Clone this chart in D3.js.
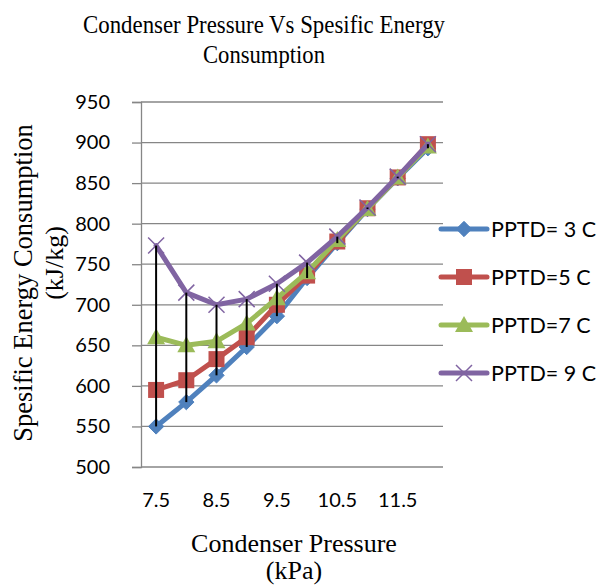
<!DOCTYPE html>
<html><head><meta charset="utf-8">
<script src="https://cdn.jsdelivr.net/npm/d3@7"></script>
<style>body{margin:0;background:#fff;} svg{display:block;}</style>
</head><body>
<svg id="c" width="604" height="587"></svg>
<script>
const categories = ["7.5","8","8.5","9","9.5","10","10.5","11","11.5","12"];
const tickLabels = ["7.5","8.5","9.5","10.5","11.5"];
const yTicks = [500,550,600,650,700,750,800,850,900,950];
const seriesNames = ["PPTD= 3 C","PPTD=5 C","PPTD=7 C","PPTD= 9 C"];
const pptd3 = [550,580,613,648,686,733,776,818,856,893];
const pptd5 = [595,607,633,660,700,736,778,819,857,898];
const pptd7 = [660,650,655,677,708,740,780,818,857,895];
const pptd9 = [773,715,700,707,726,752,784,820,858,898];
const colors = ["#4F81BD","#C0504D","#9BBB59","#8064A2"];
const markers = ["diamond","square","triangle","x"];

const svg = d3.select("#c");
const L=141, R=443, T=102, B=467;
const x = d3.scaleBand().domain(categories).range([L,R]);
const y = d3.scaleLinear().domain([500,950]).range([B,T]);
const cx = c => x(c)+x.bandwidth()/2;
const sans = "Lato, 'Open Sans', sans-serif";

// gridlines + y axis
const yAxis = d3.axisLeft(y).tickValues(yTicks).tickSize(9).tickPadding(22);
const gy = svg.append("g").attr("transform",`translate(${L},0)`).call(yAxis);
gy.select(".domain").attr("stroke","#868686").attr("stroke-width",1.3);
gy.selectAll(".tick line").attr("stroke","#868686").attr("stroke-width",1.3);
gy.selectAll(".tick text").attr("font-family",sans).attr("font-size",20).attr("fill","#000");
svg.append("g").selectAll("line").data(yTicks).join("line")
  .attr("x1",L).attr("x2",R).attr("y1",d=>y(d)).attr("y2",d=>y(d))
  .attr("stroke","#868686").attr("stroke-width",1.3);

// x axis labels
const xAxis = d3.axisBottom(x).tickValues(tickLabels).tickSize(0).tickPadding(26);
const gx = svg.append("g").attr("transform",`translate(0,${B})`).call(xAxis);
gx.select(".domain").remove();
gx.selectAll(".tick text").attr("font-family",sans).attr("font-size",20).attr("fill","#000");

const all = [pptd3,pptd5,pptd7,pptd9];

function drawMarker(g, type, color, px, py){
  if(type==="diamond"){
    g.append("path").attr("d",d3.symbol().type(d3.symbolDiamond2).size(150)()).attr("transform",`translate(${px},${py})`).attr("fill",color).attr("stroke",color).attr("stroke-width",1);
  } else if(type==="square"){
    g.append("rect").attr("x",px-8).attr("y",py-8).attr("width",16).attr("height",16).attr("fill",color);
  } else if(type==="triangle"){
    g.append("path").attr("d",`M${px},${py-9}L${px+9},${py+7}L${px-9},${py+7}Z`).attr("fill",color);
  } else {
    g.append("path").attr("d",`M${px-8},${py-8}L${px+8},${py+8}M${px+8},${py-8}L${px-8},${py+8}`).attr("stroke",color).attr("stroke-width",1.5).attr("fill","none");
  }
}

const line = d3.line().x((d,i)=>cx(categories[i])).y(d=>y(d));
all.forEach((s,k)=>{
  const g = svg.append("g");
  g.append("path").datum(s).attr("d",line).attr("fill","none").attr("stroke",colors[k]).attr("stroke-width",5).attr("stroke-linejoin","round").attr("stroke-linecap","round");
  s.forEach((v,i)=>drawMarker(g,markers[k],colors[k],cx(categories[i]),y(v)));
});

// high-low lines
svg.append("g").selectAll("line").data(categories).join("line")
  .attr("x1",c=>cx(c)).attr("x2",c=>cx(c))
  .attr("y1",(c,i)=>y(d3.max(all,s=>s[i]))).attr("y2",(c,i)=>y(d3.min(all,s=>s[i])))
  .attr("stroke","#000").attr("stroke-width",2);

// legend
const legY = [229,277,325,373];
seriesNames.forEach((n,k)=>{
  const g = svg.append("g");
  g.append("line").attr("x1",441).attr("x2",487).attr("y1",legY[k]).attr("y2",legY[k]).attr("stroke",colors[k]).attr("stroke-width",5).attr("stroke-linecap","round");
  drawMarker(g,markers[k],colors[k],464,legY[k]);
  g.append("text").attr("x",491).attr("y",legY[k]+8).text(n).attr("font-family",sans).attr("font-size",21.5).attr("fill","#000");
});

// titles
const serif = "'Liberation Serif', 'Times New Roman', serif";
svg.append("text").attr("x",264).attr("y",33).attr("text-anchor","middle").attr("font-family",serif).attr("font-size",25)
  .attr("textLength",362).attr("lengthAdjust","spacingAndGlyphs").text("Condenser Pressure Vs Spesific Energy");
svg.append("text").attr("x",264).attr("y",63).attr("text-anchor","middle").attr("font-family",serif).attr("font-size",25)
  .attr("textLength",122).attr("lengthAdjust","spacingAndGlyphs").text("Consumption");
svg.append("text").attr("x",294).attr("y",552).attr("text-anchor","middle").attr("font-family",serif).attr("font-size",26).text("Condenser Pressure");
svg.append("text").attr("x",294).attr("y",579).attr("text-anchor","middle").attr("font-family",serif).attr("font-size",26).text("(kPa)");
svg.append("text").attr("transform","translate(32,283) rotate(-90)").attr("text-anchor","middle").attr("font-family",serif).attr("font-size",26.5).text("Spesific Energy Consumption");
svg.append("text").attr("transform","translate(63,263) rotate(-90)").attr("text-anchor","middle").attr("font-family",serif).attr("font-size",26).text("(kJ/kg)");
</script>
</body></html>
